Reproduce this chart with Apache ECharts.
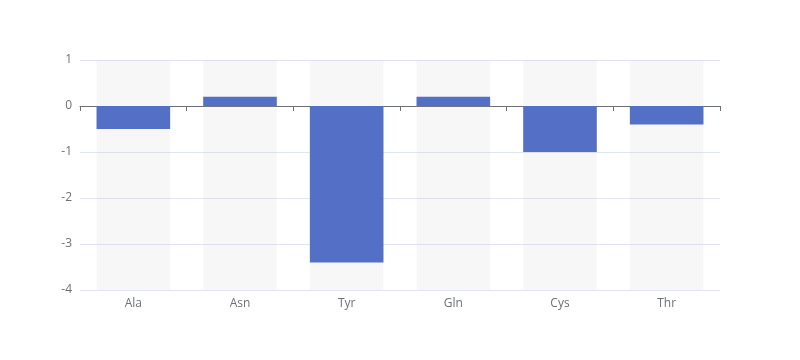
<!DOCTYPE html>
<html><head><meta charset="utf-8">
<script src="https://cdn.jsdelivr.net/npm/echarts@6/dist/echarts.min.js"></script>
<style>html,body{margin:0;padding:0;background:#fff}#c{width:800px;height:360px}</style>
</head><body><div id="c"></div>
<script>
const categories = ['Ala','Asn','Tyr','Gln','Cys','Thr'];
const values = [-0.5, 0.2, -3.4, 0.2, -1, -0.4];
const FONT = "'Open Sans', sans-serif";
const chart = echarts.init(document.getElementById('c'));
chart.setOption({
  animation:false,
  textStyle:{fontFamily:FONT},
  grid:{left:80,right:80,top:60,bottom:70},
  xAxis:{type:'category',data:categories,
    axisLine:{onZero:true,lineStyle:{color:'#6E7079'}},
    axisTick:{show:true},
    axisLabel:{color:'#6E7079',fontSize:12,fontFamily:FONT}},
  yAxis:{type:'value',min:-4,max:1,interval:1,
    axisLabel:{color:'#6E7079',fontSize:12,fontFamily:FONT},
    splitLine:{lineStyle:{color:'#E0E6F1'}}},
  series:[{type:'bar',data:values,barWidth:'69%',showBackground:true,
    backgroundStyle:{color:'rgba(180,180,180,0.1)'},
    itemStyle:{color:'#5470c6'}}]
});
</script></body></html>
